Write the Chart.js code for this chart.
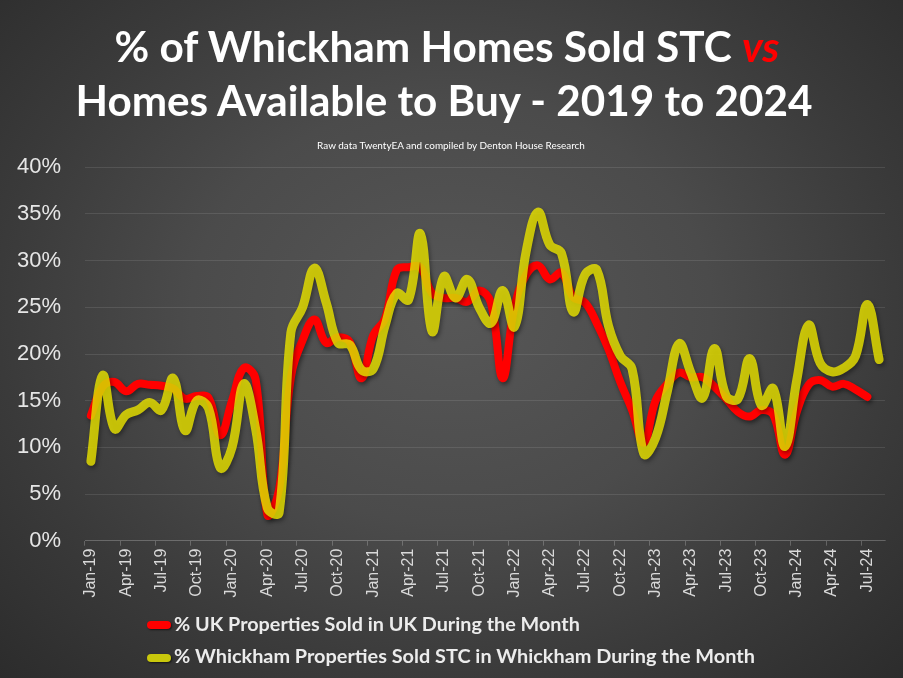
<!DOCTYPE html>
<html>
<head>
<meta charset="utf-8">
<script src="https://cdn.jsdelivr.net/npm/chart.js@4.4.1/dist/chart.umd.min.js"></script>
<style>
html,body{margin:0;padding:0;width:903px;height:678px;overflow:hidden;background:#333;}
#wrap{position:relative;width:903px;height:678px;
  background:radial-gradient(ellipse 72% 78% at 50% 46%, #575757 0%, #4b4b4b 40%, #3a3a3a 70%, #2b2b2b 100%);}
#c{position:absolute;left:0;top:0;}
.t{position:absolute;white-space:nowrap;font-family:Lato,"Open Sans","Noto Sans",sans-serif;font-weight:700;color:#ffffff;line-height:1.2;}
.vs{color:#ff0000;font-style:italic;}
.sw{position:absolute;width:24px;height:8px;border-radius:4px;}
</style>
</head>
<body>
<div id="wrap">
  <canvas id="c" width="903" height="678"></canvas>
  <div class="t" id="t1" style="font-size:40px;">% of Whickham Homes Sold STC <span class="vs">vs</span></div>
  <div class="t" id="t2" style="font-size:40px;">Homes Available to Buy - 2019 to 2024</div>
  <div class="t" id="sub" style="font-size:10px;font-weight:400;">Raw data TwentyEA and compiled by Denton House Research</div>
  <div id="legend"></div>
</div>
<script>
// ---- data ----
const months = [
 "Jan-19","Feb-19","Mar-19","Apr-19","May-19","Jun-19","Jul-19","Aug-19","Sep-19","Oct-19","Nov-19","Dec-19",
 "Jan-20","Feb-20","Mar-20","Apr-20","May-20","Jun-20","Jul-20","Aug-20","Sep-20","Oct-20","Nov-20","Dec-20",
 "Jan-21","Feb-21","Mar-21","Apr-21","May-21","Jun-21","Jul-21","Aug-21","Sep-21","Oct-21","Nov-21","Dec-21",
 "Jan-22","Feb-22","Mar-22","Apr-22","May-22","Jun-22","Jul-22","Aug-22","Sep-22","Oct-22","Nov-22","Dec-22",
 "Jan-23","Feb-23","Mar-23","Apr-23","May-23","Jun-23","Jul-23","Aug-23","Sep-23","Oct-23","Nov-23","Dec-23",
 "Jan-24","Feb-24","Mar-24","Apr-24","May-24","Jun-24","Jul-24","Aug-24"
];
const seriesNames = [
 "% UK Properties Sold in UK During the Month",
 "% Whickham Properties Sold STC in Whickham During the Month"
];
const ukSold = [
 13.4,16.5,17.0,16.0,16.8,16.7,16.6,16.3,15.2,15.5,15.3,11.3,
 15.0,18.5,17.3,2.8,5.5,17.5,21.5,23.7,21.2,21.8,21.3,17.4,
 22.0,23.8,29.0,29.3,29.3,26.5,26.0,26.0,25.6,26.8,25.5,17.4,
 25.0,28.5,29.5,28.0,28.7,26.1,25.5,23.3,20.5,17.0,14.0,10.5,
 15.0,16.8,18.0,17.5,17.5,16.5,15.2,13.8,13.3,14.0,13.5,9.2,
 13.8,16.7,17.2,16.5,16.8,16.2,15.4
];
const whickhamSold = [
 8.5,17.7,12.0,13.5,14.0,14.8,14.0,17.4,11.8,15.0,14.2,7.8,
 10.0,16.8,12.0,3.5,3.0,22.3,25.0,29.2,25.5,21.2,21.0,18.3,
 18.4,23.0,26.5,25.8,32.9,22.4,28.3,26.0,28.0,25.0,23.3,26.8,
 22.9,31.0,35.2,31.7,30.8,24.5,28.5,29.0,23.0,19.8,18.4,9.3,
 11.0,16.0,21.1,18.0,15.3,20.6,15.5,15.2,19.5,14.5,16.3,10.1,
 17.2,23.1,19.0,18.1,18.5,19.8,25.3,19.4
];
const seriesColors = ["#ff0000", "rgba(232,226,0,0.82)"];
const swatchColors = ["#ff0000", "#c9c80c"];

// ---- legend (HTML) ----
const legend = document.getElementById('legend');
const legendRows = [625, 658];
seriesNames.forEach((name, i) => {
  const sw = document.createElement('div');
  sw.className = 'sw';
  sw.style.left = '147px';
  sw.style.top = (legendRows[i] - 4) + 'px';
  sw.style.background = swatchColors[i];
  sw.style.boxShadow = '1px 1px 2px rgba(0,0,0,0.6)';
  legend.appendChild(sw);
  const tx = document.createElement('div');
  tx.className = 't';
  tx.id = 'lg' + i;
  tx.style.fontSize = '20px';
  tx.style.color = '#ececec';
  tx.textContent = name;
  legend.appendChild(tx);
});

// ---- fit & place text ----
function place(id, targetW, baseline, cx, left) {
  const el = document.getElementById(id);
  let fs = parseFloat(el.style.fontSize);
  const w = el.getBoundingClientRect().width;
  fs = fs * targetW / w;
  el.style.fontSize = fs.toFixed(2) + 'px';
  const w2 = el.getBoundingClientRect().width;
  el.style.top = (baseline - 0.987 * fs).toFixed(1) + 'px';
  if (cx !== null) el.style.left = (cx - w2 / 2).toFixed(1) + 'px';
  else el.style.left = left + 'px';
}
place('t1', 665, 62.5, 447, null);
place('t2', 737, 117, 444, null);
place('sub', 268, 150, 451, null);
place('lg0', 406, 631, null, 174);
place('lg1', 581, 664, null, 174);

// ---- chart ----
const shadowPlugin = {
  id: 'lineShadow',
  beforeDatasetsDraw(chart) {
    const c = chart.ctx;
    c.save();
    c.shadowColor = 'rgba(0,0,0,0.45)';
    c.shadowBlur = 4;
    c.shadowOffsetX = 1.5;
    c.shadowOffsetY = 2.5;
  },
  afterDatasetsDraw(chart) { chart.ctx.restore(); }
};

new Chart(document.getElementById('c'), {
  type: 'line',
  data: {
    labels: months,
    datasets: [
      { label: seriesNames[0], data: ukSold, borderColor: seriesColors[0], backgroundColor: seriesColors[0], borderWidth: 8, order: 1 },
      { label: seriesNames[1], data: whickhamSold, borderColor: seriesColors[1], backgroundColor: seriesColors[1], borderWidth: 9, order: 0 }
    ]
  },
  options: {
    responsive: false,
    animation: false,
    layout: { padding: { top: 167.3, right: 18, left: 0, bottom: 0 } },
    plugins: { legend: { display: false }, tooltip: { enabled: false }, title: { display: false } },
    elements: {
      point: { radius: 0, hoverRadius: 0 },
      line: { tension: 0.4, borderCapStyle: 'round', borderJoinStyle: 'round', fill: false }
    },
    scales: {
      x: {
        offset: true,
        grid: {
          offset: true, drawOnChartArea: false, drawTicks: true, tickLength: 5,
          tickColor: (c) => (c.index % 3 === 0 ? 'rgba(255,255,255,0.22)' : 'rgba(0,0,0,0)'),
          color: 'rgba(255,255,255,0.15)'
        },
        border: { display: true, color: 'rgba(255,255,255,0.15)' },
        ticks: {
          autoSkip: false, maxRotation: 90, minRotation: 90, padding: 3,
          color: '#d9d9d9', font: { family: '"Liberation Sans", Arial, sans-serif', size: 16 },
          callback: (v, i) => (i % 3 === 0 ? months[i] : '')
        },
        afterFit: (s) => { s.height = 678 - 540.7; }
      },
      y: {
        min: 0, max: 40,
        ticks: {
          stepSize: 5, padding: 24, color: '#e6e6e6',
          font: { family: '"Liberation Sans", Arial, sans-serif', size: 22 },
          callback: (v) => v + '%'
        },
        grid: { color: 'rgba(255,255,255,0.1)', drawTicks: false },
        border: { display: false },
        afterFit: (s) => { s.width = 85; }
      }
    }
  },
  plugins: [shadowPlugin]
});
</script>
</body>
</html>
